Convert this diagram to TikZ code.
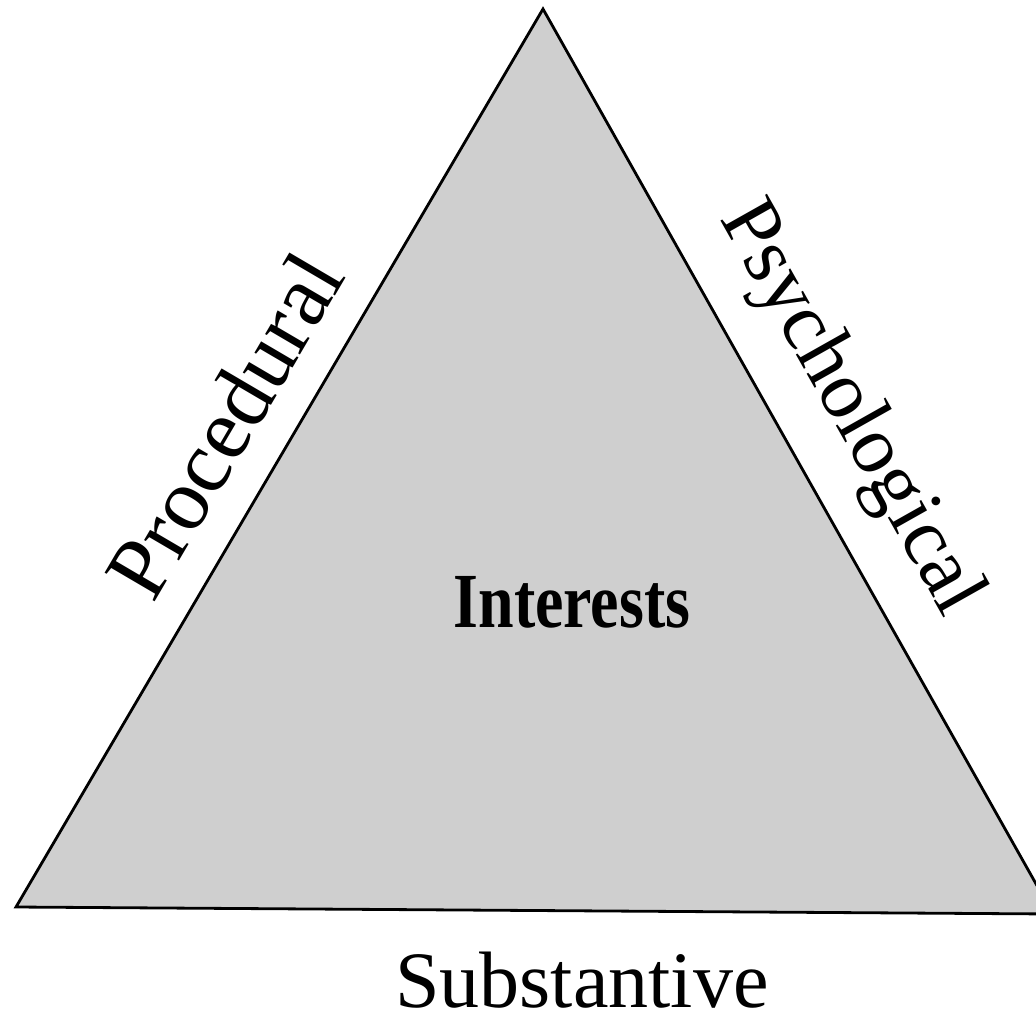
\documentclass[tikz,border=0pt]{standalone}
\usepackage{graphicx}
\usepackage{fontspec}
\setmainfont{Liberation Serif}
\begin{document}
\begin{tikzpicture}[x=1pt,y=-1pt,
  edge/.style={draw=black,line width=2.8pt,line join=miter},
  label/.style={inner sep=0pt,text depth=0pt},
  centrelabel/.style={label,font=\fontsize{78}{80}\selectfont\bfseries}]
  \useasboundingbox (0,0) rectangle (1036,1015);
  \clip (0,0) rectangle (1036,1015);
  % corners of the triangle
  \coordinate (apex) at (543,9);
  \coordinate (bl) at (16,907);
  \coordinate (br) at (1053,914);
  \fill[black!19] (apex) -- (bl) -- (br) -- cycle;
  \path[edge] (apex) -- (bl) -- (br) -- cycle;
  % labels
  \node[centrelabel,anchor=base] (interests) at (572,627)
    {\scalebox{0.82}[1]{Interests}};
  \node[label,anchor=base,font=\fontsize{80}{82}\selectfont] (substantive)
    at (582,1007) {Substantive};
  \node[label,rotate=59.6,font=\fontsize{88}{90}\selectfont] (procedural)
    at (224,425) {Procedural};
  \node[label,rotate=-60.6,font=\fontsize{82}{84}\selectfont] (psychological)
    at (857,405) {Psychological};
\end{tikzpicture}
\end{document}
